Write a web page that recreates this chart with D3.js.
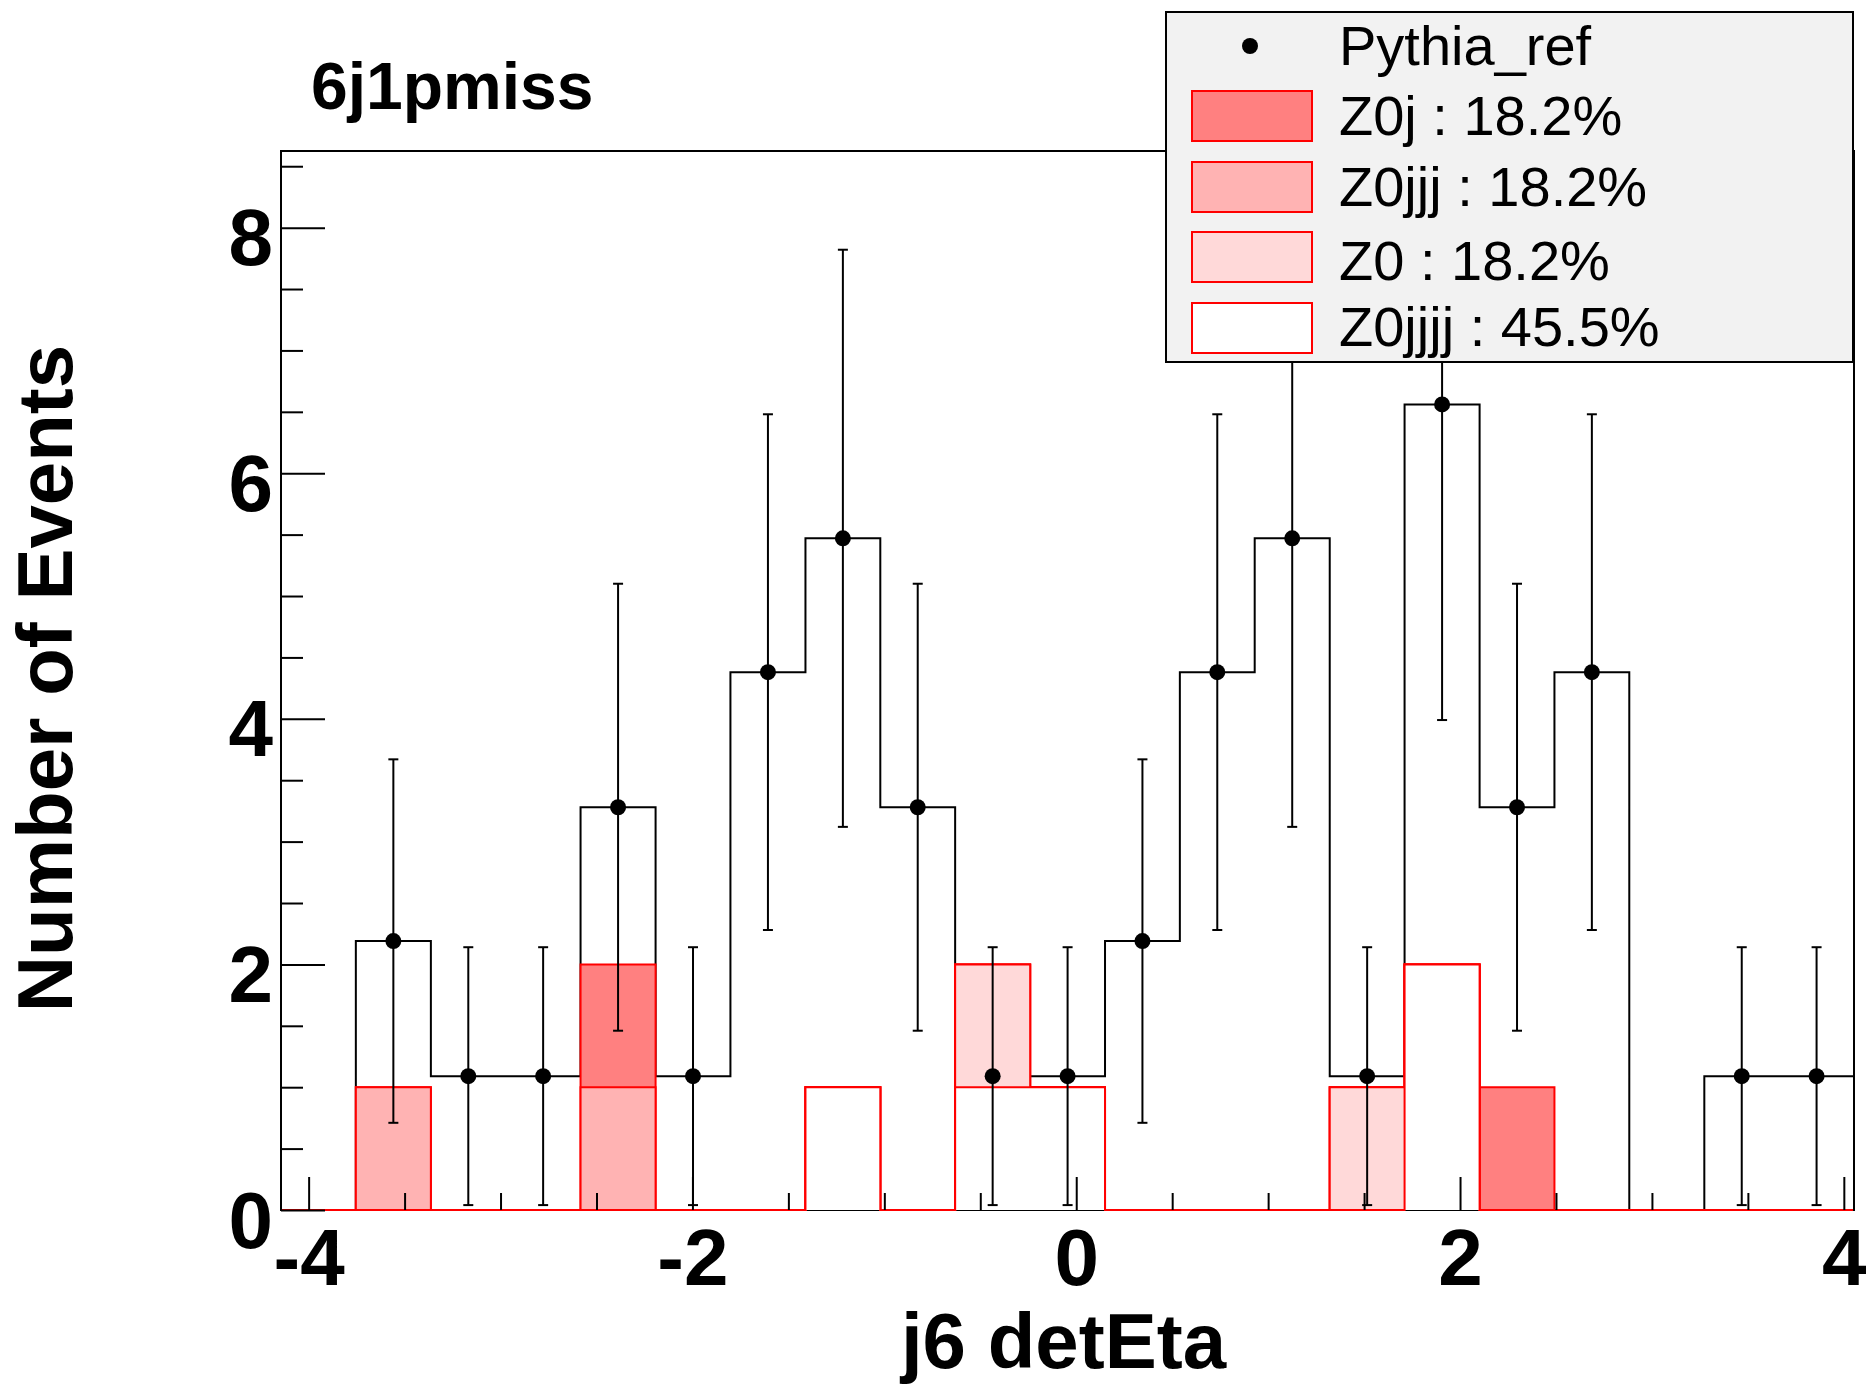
<!DOCTYPE html>
<html><head><meta charset="utf-8">
<script src="https://cdn.jsdelivr.net/npm/d3@7"></script>
<style>
body{margin:0;background:#fff}
svg{display:block}
text{font-family:"Liberation Sans",Arial,Helvetica,sans-serif}
</style>
</head><body>
<svg id="c" width="1866" height="1390"></svg>
<script>
// ---- data ----
const binEdges = [-4.144, -3.754, -3.363, -2.973, -2.583, -2.192, -1.802, -1.411, -1.021, -0.631, -0.240,
                  0.150, 0.540, 0.930, 1.321, 1.711, 2.102, 2.492, 2.882, 3.273, 3.663, 4.053];
const pythiaRef = [0, 2.19, 1.09, 1.09, 3.28, 1.09, 4.38, 5.47, 3.28, 1.09, 1.09,
                   2.19, 4.38, 5.47, 1.09, 6.56, 3.28, 4.38, 0, 1.09, 1.09];
const pythiaErr = [0, 1.48, 1.05, 1.05, 1.82, 1.05, 2.10, 2.35, 1.82, 1.05, 1.05,
                   1.48, 2.10, 2.35, 1.05, 2.57, 1.82, 2.10, 0, 1.05, 1.05];
const z0j    = [0,0,0,0,1,0,0,0,0,0,0,0,0,0,0,0,1,0,0,0,0];
const z0jjj  = [0,1,0,0,1,0,0,0,0,0,0,0,0,0,0,0,0,0,0,0,0];
const z0     = [0,0,0,0,0,0,0,0,0,1,0,0,0,0,1,0,0,0,0,0,0];
const z0jjjj = [0,0,0,0,0,0,0,1,0,1,1,0,0,0,0,2,0,0,0,0,0];
const seriesNames  = ["Z0j", "Z0jjj", "Z0", "Z0jjjj"];
const seriesShares = ["18.2%", "18.2%", "18.2%", "45.5%"];
const seriesColors = ["#ff8080", "#ffb3b3", "#ffd9d9", "#ffffff"];
const xMajorTicks = [-4, -2, 0, 2, 4];
const yMajorTicks = [0, 2, 4, 6, 8];
const xMinorTicks = [-3.5, -3, -2.5, -1.5, -1, -0.5, 0.5, 1, 1.5, 2.5, 3, 3.5];
const yMinorTicks = [0.5, 1, 1.5, 2.5, 3, 3.5, 4.5, 5, 5.5, 6.5, 7, 7.5, 8.5];
const plotTitle = "6j1pmiss";
const xTitle = "j6 detEta";
const yTitle = "Number of Events";
const refName = "Pythia_ref";

// ---- layout ----
const L = 281, R = 1854, T = 151, B = 1210;
const svg = d3.select("#c");
const x = d3.scaleLinear().domain([binEdges[0], binEdges[binEdges.length - 1]]).range([L, R]);
const y = d3.scaleLinear().domain([0, 8.624]).range([B, T]);
const nb = pythiaRef.length;

svg.append("defs").append("clipPath").attr("id", "clip")
  .append("rect").attr("x", L - 1).attr("y", T).attr("width", R - L + 2).attr("height", B - T + 1);

// frame
svg.append("rect").attr("x", L).attr("y", T).attr("width", R - L).attr("height", B - T)
  .attr("fill", "none").attr("stroke", "#000").attr("stroke-width", 2);

function stepPts(vals) {
  const p = [[binEdges[0], 0]];
  vals.forEach((v, i) => p.push([binEdges[i], v]));
  p.push([binEdges[nb], vals[nb - 1]]);
  p.push([binEdges[nb], 0]);
  return p;
}
const line = d3.line().x(d => x(d[0])).y(d => y(d[1])).curve(d3.curveStepAfter);
const area = d3.area().x(d => x(d[0])).y0(y(0)).y1(d => y(d[1])).curve(d3.curveStepAfter);

const plot = svg.append("g").attr("clip-path", "url(#clip)");

// reference histogram outline
plot.append("path").attr("d", line(stepPts(pythiaRef)))
  .attr("fill", "none").attr("stroke", "#000").attr("stroke-width", 2);

// stack (bottom -> top: Z0jjjj, Z0, Z0jjj, Z0j)
const table = pythiaRef.map((_, i) => ({Z0j: z0j[i], Z0jjj: z0jjj[i], Z0: z0[i], Z0jjjj: z0jjjj[i]}));
const stackKeys = ["Z0jjjj", "Z0", "Z0jjj", "Z0j"];
const stacked = d3.stack().keys(stackKeys)(table);
const colorOf = d3.scaleOrdinal().domain(seriesNames).range(seriesColors);
stacked.slice().reverse().forEach(s => {
  const cum = s.map(d => d[1]);
  const pts = stepPts(cum);
  plot.append("path").attr("d", area(pts)).attr("fill", colorOf(s.key)).attr("stroke", "none");
  plot.append("path").attr("d", line(pts)).attr("fill", "none").attr("stroke", "#ff0000").attr("stroke-width", 2);
});

// data points with error bars
const pts = pythiaRef.map((v, i) => ({cx: (binEdges[i] + binEdges[i + 1]) / 2, v, e: pythiaErr[i]})).filter(d => d.v > 0);
const eb = plot.append("g").attr("stroke", "#000").attr("stroke-width", 2);
pts.forEach(d => {
  const px = x(d.cx);
  eb.append("line").attr("x1", px).attr("x2", px).attr("y1", y(d.v - d.e)).attr("y2", y(d.v + d.e));
  eb.append("line").attr("x1", px - 5).attr("x2", px + 5).attr("y1", y(d.v - d.e)).attr("y2", y(d.v - d.e));
  eb.append("line").attr("x1", px - 5).attr("x2", px + 5).attr("y1", y(d.v + d.e)).attr("y2", y(d.v + d.e));
});
plot.append("g").selectAll("circle").data(pts).join("circle")
  .attr("cx", d => x(d.cx)).attr("cy", d => y(d.v)).attr("r", 8).attr("fill", "#000");

// left / right frame edges redrawn in black
svg.append("line").attr("x1", L).attr("x2", L).attr("y1", T).attr("y2", B + 1).attr("stroke", "#000").attr("stroke-width", 2);
svg.append("line").attr("x1", R).attr("x2", R).attr("y1", T).attr("y2", B + 1).attr("stroke", "#000").attr("stroke-width", 2);

// axes
function styleAxis(g) {
  g.select(".domain").remove();
  g.attr("font-family", null).attr("font-size", null);
  g.selectAll(".tick line").attr("stroke", "#000").attr("stroke-width", 2);
}
const gx = svg.append("g").attr("transform", `translate(0,${B})`)
  .call(d3.axisBottom(x).tickValues(xMajorTicks).tickSize(-33).tickFormat(d => String(d)));
styleAxis(gx);
gx.selectAll("text").attr("y", 75).attr("dy", null)
  .style("font-size", "80px").style("font-weight", "bold").attr("fill", "#000");
const gxm = svg.append("g").attr("transform", `translate(0,${B})`)
  .call(d3.axisBottom(x).tickValues(xMinorTicks).tickSize(-17).tickFormat(""));
styleAxis(gxm);

const gy = svg.append("g").attr("transform", `translate(${L},0)`)
  .call(d3.axisLeft(y).tickValues(yMajorTicks).tickSize(-44).tickFormat(d => String(d)));
styleAxis(gy);
gy.selectAll("text").attr("x", -8).attr("y", 37).attr("dy", null)
  .style("font-size", "80px").style("font-weight", "bold").attr("fill", "#000");
const gym = svg.append("g").attr("transform", `translate(${L},0)`)
  .call(d3.axisLeft(y).tickValues(yMinorTicks).tickSize(-22).tickFormat(""));
styleAxis(gym);

// titles
svg.append("text").attr("x", 311).attr("y", 109).style("font-size", "66px").style("font-weight", "bold").text(plotTitle);
svg.append("text").attr("x", (L + R) / 2 - 4).attr("y", 1368).attr("text-anchor", "middle")
  .style("font-size", "78px").style("font-weight", "bold").text(xTitle);
svg.append("text").attr("transform", `translate(72,${(T + B) / 2 - 2}) rotate(-90)`).attr("text-anchor", "middle")
  .style("font-size", "78px").style("font-weight", "bold").text(yTitle);

// legend
const lg = svg.append("g");
lg.append("rect").attr("x", 1166).attr("y", 12).attr("width", 687).attr("height", 350)
  .attr("fill", "#f2f2f2").attr("stroke", "#000").attr("stroke-width", 2);
lg.append("circle").attr("cx", 1250).attr("cy", 46).attr("r", 8).attr("fill", "#000");
lg.append("text").attr("x", 1339).attr("y", 65).style("font-size", "56px").text(refName);
const rowCenters = [116, 187, 257, 328];
const rowBaselines = [135, 206, 280, 346];
seriesNames.forEach((nm, i) => {
  lg.append("rect").attr("x", 1192).attr("y", rowCenters[i] - 25).attr("width", 120).attr("height", 50)
    .attr("fill", seriesColors[i]).attr("stroke", "#ff0000").attr("stroke-width", 2);
  lg.append("text").attr("x", 1339).attr("y", rowBaselines[i]).style("font-size", "56px")
    .text(`${nm} : ${seriesShares[i]}`);
});
</script>
</body></html>
